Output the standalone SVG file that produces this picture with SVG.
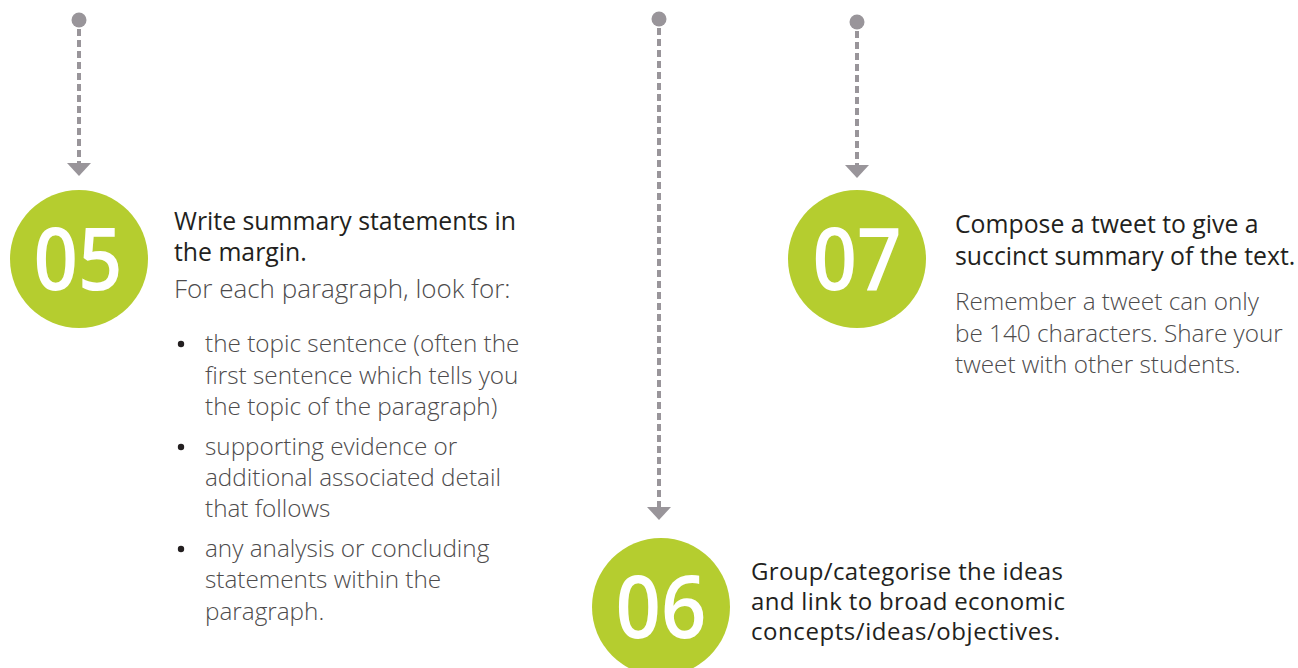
<svg xmlns="http://www.w3.org/2000/svg" width="1298" height="668" viewBox="0 0 1298 668">
<style>
.ball{fill:#b5cd2f}
.num{fill:#ffffff;font-family:"Open Sans","Noto Sans",sans-serif;font-weight:600;font-size:86px;text-anchor:middle}
.hd{fill:#231f20;font-family:"Open Sans","Noto Sans",sans-serif;font-weight:500;font-size:24.8px}
.hd6{font-size:24px}
.bd{fill:#4d4b4c;font-family:"Open Sans","Noto Sans",sans-serif;font-weight:300;font-size:24.3px}
.lead{font-size:26px}
.dash{stroke:#99959a;stroke-width:4;stroke-dasharray:7 4;fill:none}
.dot{fill:#99959a}
.bul{fill:#231f20}
</style>
<g id="connectors">
<circle class="dot" cx="79" cy="20" r="7.5"/>
<line class="dash" x1="79" y1="29" x2="79" y2="164"/>
<polygon class="dot" points="67,163 91,163 79,176"/>
<circle class="dot" cx="659" cy="19" r="7.5"/>
<line class="dash" x1="659" y1="28" x2="659" y2="508"/>
<polygon class="dot" points="647,507 671,507 659,520"/>
<circle class="dot" cx="857" cy="22" r="7.5"/>
<line class="dash" x1="857" y1="31" x2="857" y2="166"/>
<polygon class="dot" points="845,165 869,165 857,178"/>
</g>
<g id="node05">
<circle class="ball" cx="79" cy="259" r="69"/>
<text class="num" x="78" y="290" textLength="89" lengthAdjust="spacingAndGlyphs">05</text>
<text class="hd" x="174" y="230">Write summary statements in</text>
<text class="hd" x="174" y="261">the margin.</text>
<text class="bd lead" x="174" y="298">For each paragraph, look for:</text>
<circle class="bul" cx="181" cy="344" r="3.2"/>
<text class="bd" x="205" y="352">the topic sentence (often the</text>
<text class="bd" x="205" y="384">first sentence which tells you</text>
<text class="bd" x="205" y="415">the topic of the paragraph)</text>
<circle class="bul" cx="181" cy="447" r="3.2"/>
<text class="bd" x="205" y="455">supporting evidence or</text>
<text class="bd" x="205" y="486">additional associated detail</text>
<text class="bd" x="205" y="517">that follows</text>
<circle class="bul" cx="181" cy="549" r="3.2"/>
<text class="bd" x="205" y="557">any analysis or concluding</text>
<text class="bd" x="205" y="588">statements within the</text>
<text class="bd" x="205" y="620">paragraph.</text>
</g>
<g id="node06">
<circle class="ball" cx="661" cy="607" r="69"/>
<text class="num" x="661" y="638" textLength="91" lengthAdjust="spacingAndGlyphs">06</text>
<text class="hd hd6" x="751" y="580" textLength="312" lengthAdjust="spacing">Group/categorise the ideas</text>
<text class="hd hd6" x="751" y="610" textLength="314" lengthAdjust="spacing">and link to broad economic</text>
<text class="hd hd6" x="751" y="640" textLength="309" lengthAdjust="spacing">concepts/ideas/objectives.</text>
</g>
<g id="node07">
<circle class="ball" cx="857" cy="259" r="69"/>
<text class="num" x="857" y="290" textLength="89" lengthAdjust="spacingAndGlyphs">07</text>
<text class="hd" x="955" y="233">Compose a tweet to give a</text>
<text class="hd" x="955" y="265">succinct summary of the text.</text>
<text class="bd" x="955" y="310">Remember a tweet can only</text>
<text class="bd" x="955" y="342">be 140 characters. Share your</text>
<text class="bd" x="955" y="373">tweet with other students.</text>
</g>
</svg>
